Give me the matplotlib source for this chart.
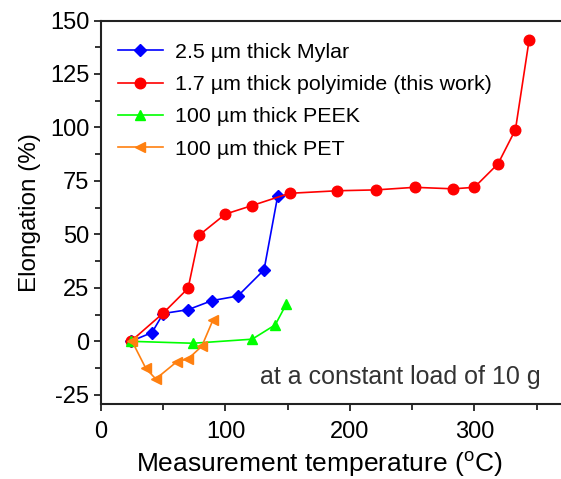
import matplotlib
matplotlib.use("Agg")
import matplotlib.pyplot as plt
from matplotlib.ticker import MultipleLocator

plt.rcParams['font.family'] = ['Liberation Sans', 'DejaVu Sans']
plt.rcParams['mathtext.fontset'] = 'custom'
plt.rcParams['mathtext.rm'] = 'Liberation Sans'
plt.rcParams['axes.unicode_minus'] = False

# Mylar 2.5 um
mylar_t = [24, 41, 50, 70, 89, 110, 131, 142]
mylar_e = [0, 4.1, 13, 14.8, 19, 21.2, 33.4, 68]

# polyimide 1.7 um (this work)
pi_t = [24, 50, 70, 79, 100, 121, 151.5, 190, 221, 252, 283, 300, 319, 333, 344]
pi_e = [0, 13.2, 24.8, 49.7, 59.5, 63.4, 69.2, 70.4, 70.8, 72, 71.3, 72, 83, 99, 141]

# PEEK 100 um
peek_t = [24, 74, 121.5, 140, 149]
peek_e = [0, -0.9, 1, 7.7, 17.5]

# PET 100 um
pet_t = [25, 36, 44, 61, 70, 81, 90]
pet_e = [0, -12.6, -17.6, -9.5, -8.2, -2.3, 10]

labels = ['2.5 µm thick Mylar', '1.7 µm thick polyimide (this work)',
          '100 µm thick PEEK', '100 µm thick PET']

fig = plt.figure(figsize=(5.61, 4.79), dpi=100)
ax = fig.add_axes([0.18, 0.1566, 0.832, 0.8006])

ms = 7.6
ax.plot(mylar_t, mylar_e, color='#0000ff', marker='D', ms=6.6, lw=1.2, label=labels[0])
ax.plot(pi_t, pi_e, color='#ff0000', marker='o', ms=ms, lw=1.2, label=labels[1])
ax.plot(peek_t, peek_e, color='#00ff00', marker='^', ms=ms, lw=1.2, label=labels[2])
ax.plot(pet_t, pet_e, color='#ff8010', marker='<', ms=ms, lw=1.2, label=labels[3])

ax.set_xlim(0, 375)
ax.set_ylim(-29.3, 150)
ax.xaxis.set_major_locator(MultipleLocator(100))
ax.xaxis.set_minor_locator(MultipleLocator(50))
ax.yaxis.set_major_locator(MultipleLocator(25))
ax.yaxis.set_minor_locator(MultipleLocator(12.5))

ax.spines['right'].set_visible(False)
for s in ['top', 'left', 'bottom']:
    ax.spines[s].set_linewidth(1.5)
    ax.spines[s].set_color('#222222')
ax.tick_params(which='both', direction='out', top=False, right=False, width=1.3,
               labelsize=17, colors='#222222', labelcolor='black')
ax.tick_params(which='major', length=5)
ax.tick_params(which='minor', length=4)
ax.tick_params(axis='x', pad=7)

ax.set_xlabel(r'Measurement temperature ($^{\mathregular{o}}$C)', fontsize=19)
ax.xaxis.set_label_coords(0.467, -0.118)
ax.set_ylabel('Elongation (%)', fontsize=17.5, labelpad=6)

ax.text(353, -16.5, 'at a constant load of 10 g', fontsize=18, ha='right', va='center',
        color='#333333')

ax.legend(loc='upper left', frameon=False, fontsize=15.4, handlelength=2.1,
          borderaxespad=0, borderpad=0, labelspacing=0.62, handletextpad=0.56,
          bbox_to_anchor=(0.036, 0.942))

fig.savefig('out.png', dpi=100)
